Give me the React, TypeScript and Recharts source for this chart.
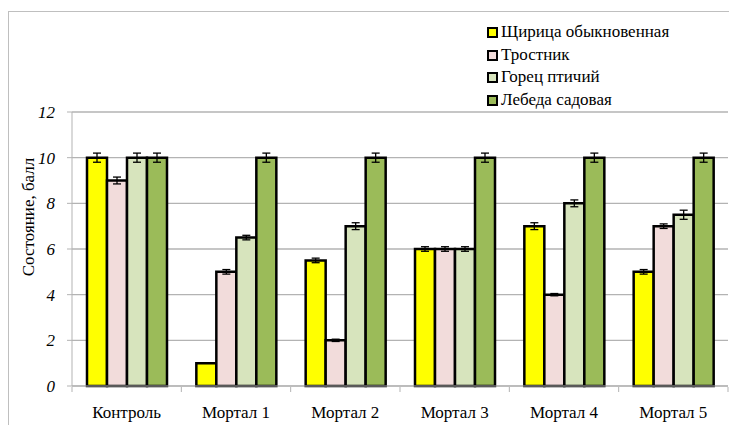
import { BarChart, Bar, XAxis, YAxis, CartesianGrid, ErrorBar } from 'recharts';

const categories = ['Контроль', 'Мортал 1', 'Мортал 2', 'Мортал 3', 'Мортал 4', 'Мортал 5'];
const seriesNames = ['Щирица обыкновенная', 'Тростник', 'Горец птичий', 'Лебеда садовая'];
const seriesColors = ['#FFFF00', '#F2DCDB', '#D7E4BD', '#9BBB59'];

const shchiritsa = [10, 1, 5.5, 6, 7, 5];
const shchiritsaErr = [0.2, 0, 0.1, 0.1, 0.15, 0.1];
const trostnik = [9, 5, 2, 6, 4, 7];
const trostnikErr = [0.15, 0.1, 0.05, 0.1, 0.05, 0.1];
const gorets = [10, 6.5, 7, 6, 8, 7.5];
const goretsErr = [0.2, 0.1, 0.15, 0.1, 0.15, 0.2];
const lebeda = [10, 10, 10, 10, 10, 10];
const lebedaErr = [0.2, 0.2, 0.2, 0.2, 0.2, 0.2];
const yTicks = [0, 2, 4, 6, 8, 10, 12];

const values = [shchiritsa, trostnik, gorets, lebeda];
const errors = [shchiritsaErr, trostnikErr, goretsErr, lebedaErr];

const data = categories.map((name, i) => {
  const row: Record<string, string | number> = { name };
  values.forEach((v, s) => {
    row[`s${s}`] = v[i];
    row[`e${s}`] = errors[s][i];
  });
  return row;
});

const FONT = "'Liberation Serif', 'Times New Roman', serif";
const GRID = '#B3B3B3';

// category label in the middle, tick marks on the band edges (like Excel)
function CategoryTick(props: any) {
  const { x, y, payload, index, visibleTicksCount } = props;
  const half = payload.offset || 0;
  const top = y - 14;
  return (
    <g>
      <line x1={x - half} y1={top - 5} x2={x - half} y2={top} stroke={GRID} />
      {index === visibleTicksCount - 1 && (
        <line x1={x + half} y1={top - 5} x2={x + half} y2={top} stroke={GRID} />
      )}
      <text x={x} y={y} dy="0.71em" textAnchor="middle" fill="#000" fontSize={17} fontFamily={FONT}>
        {payload.value}
      </text>
    </g>
  );
}

function YTick(props: any) {
  const { x, y, payload } = props;
  return (
    <text x={x} y={y} dy="0.35em" textAnchor="end" fill="#000" fontSize={17} fontFamily={FONT} fontStyle="italic">
      {payload.value}
    </text>
  );
}

function YLabel() {
  return (
    <text
      x={28}
      y={217}
      transform="rotate(-90 28 217)"
      textAnchor="middle"
      dominantBaseline="central"
      fill="#000"
      fontSize={17}
      fontFamily={FONT}
    >
      Состояние, балл
    </text>
  );
}

export default function App() {
  return (
    <div style={{ position: 'absolute', left: 0, top: 0, width: 729, height: 425, overflow: 'hidden', background: '#fff' }}>
      <div
        style={{
          position: 'absolute',
          left: 8,
          top: 11,
          width: 740,
          height: 440,
          border: '1px solid #BFBFBF',
          boxSizing: 'border-box',
        }}
      />
      <BarChart
        width={729}
        height={425}
        data={data}
        margin={{ top: 112, right: 1, left: 0, bottom: 0 }}
        barGap={0}
        barSize={20}
        style={{ position: 'absolute', left: 0, top: 0 }}
      >
        <CartesianGrid vertical={false} stroke={GRID} strokeWidth={1.3} />
        <XAxis
          dataKey="name"
          height={39}
          stroke={GRID}
          tickLine={false}
          tickMargin={14}
          tick={<CategoryTick />}
          interval={0}
        />
        <YAxis
          width={72}
          domain={[0, 12]}
          ticks={yTicks}
          stroke={GRID}
          tickSize={5}
          tickMargin={12}
          tick={<YTick />}
          label={<YLabel />}
        />
        {seriesNames.map((n, s) => (
          <Bar
            key={n}
            dataKey={`s${s}`}
            name={n}
            fill={seriesColors[s]}
            stroke="#000"
            strokeWidth={2.5}
            isAnimationActive={false}
          >
            <ErrorBar dataKey={`e${s}`} width={4} stroke="#000" strokeWidth={1.3} />
          </Bar>
        ))}
      </BarChart>
      <div style={{ position: 'absolute', left: 487, top: 21, fontFamily: FONT, fontSize: 17, lineHeight: '22.7px' }}>
        {seriesNames.map((n, s) => (
          <div key={n} style={{ display: 'flex', alignItems: 'center', whiteSpace: 'nowrap' }}>
            <span
              style={{
                display: 'inline-block',
                width: 7,
                height: 7,
                background: seriesColors[s],
                border: '2px solid #000',
                marginRight: 3,
              }}
            />
            {n}
          </div>
        ))}
      </div>
    </div>
  );
}
